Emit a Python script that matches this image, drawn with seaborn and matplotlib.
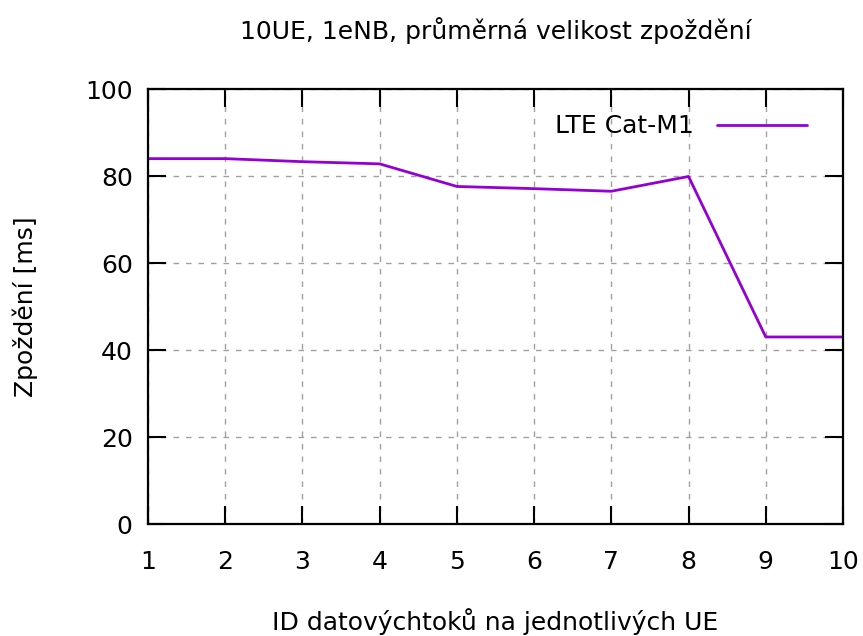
import numpy as np
import pandas as pd
import matplotlib
matplotlib.use("Agg")
import matplotlib.pyplot as plt
import seaborn as sns

# data
ue_id = [1, 2, 3, 4, 5, 6, 7, 8, 9, 10]
delay_ms = [84.0, 84.0, 83.3, 82.8, 77.6, 77.1, 76.5, 79.9, 43.0, 43.0]
series_name = "LTE Cat-M1"

df = pd.DataFrame({"ue": ue_id, "delay": delay_ms, "series": series_name})

sns.set_theme(style="ticks")
plt.rcParams['font.family'] = ['DejaVu Sans']
plt.rcParams['text.color'] = 'black'
plt.rcParams['axes.labelcolor'] = 'black'

fig = plt.figure(figsize=(8.63, 6.36), dpi=100)
ax = fig.add_axes([0.1715, 0.1761, 0.8053, 0.6839])

sns.lineplot(data=df, x="ue", y="delay", hue="series", palette=["#9400d3"],
             linewidth=2.0, ax=ax)

ax.set_xlim(1, 10)
ax.set_ylim(0, 100)
ax.set_xticks(ue_id)
ax.set_yticks([0, 20, 40, 60, 80, 100])

# gnuplot look: inward mirrored ticks, dashed grey grid
ax.tick_params(direction="in", length=13, width=1.5, top=True, right=True,
               labelsize=18, colors="black")
ax.tick_params(axis="x", pad=19)
ax.tick_params(axis="y", pad=11)
ax.grid(True, linestyle=(0, (4, 5)), color="#a0a0a0", linewidth=1)
for s in ax.spines.values():
    s.set_linewidth(1.6)
    s.set_color("black")

ax.set_title("10UE, 1eNB, průměrná velikost zpoždění", fontsize=18, pad=36)
ax.set_xlabel("ID datovýchtoků na jednotlivých UE", fontsize=18, labelpad=24)
ax.set_ylabel("Zpoždění [ms]", fontsize=18, labelpad=34)

ax.legend(loc="upper right", bbox_to_anchor=(0.962, 0.965), borderaxespad=0,
          frameon=False, markerfirst=False, fontsize=18,
          handlelength=3.6, handletextpad=0.9, title=None)

fig.savefig("out.png", dpi=100)
